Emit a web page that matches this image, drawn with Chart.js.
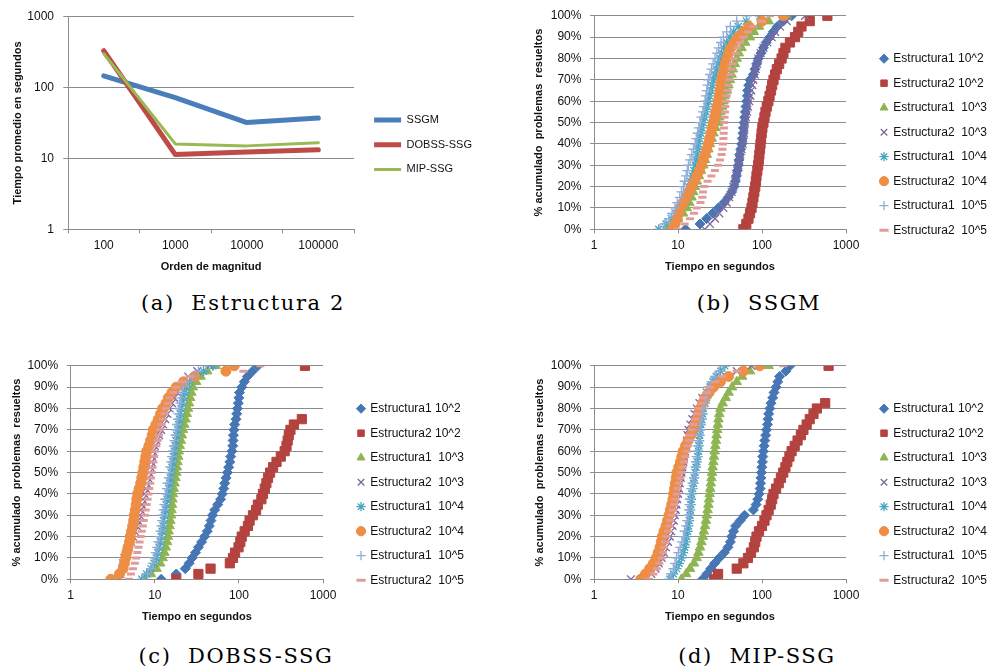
<!DOCTYPE html>
<html>
<head>
<meta charset="utf-8">
<script src="https://cdn.jsdelivr.net/npm/chart.js@4.4.0/dist/chart.umd.min.js"></script>
<style>
html, body { margin: 0; padding: 0; background: #fff; width: 992px; height: 670px; overflow: hidden; }
.box { position: absolute; height: 290px; }
.cap { position: absolute; font-family: "DejaVu Serif", serif; font-size: 21px; line-height: 21px; letter-spacing: 1.6px; color: #000; white-space: pre; transform: translateX(-50%); }
</style>
</head>
<body>
<div class="box" style="left:0;top:0;width:482px"><canvas id="chartA"></canvas></div>
<div class="box" style="left:520px;top:0;width:477px"><canvas id="chartB"></canvas></div>
<div class="box" style="left:0;top:350px;width:474px"><canvas id="chartC"></canvas></div>
<div class="box" style="left:520px;top:350px;width:477px"><canvas id="chartD"></canvas></div>
<div class="cap" style="left:243px;top:293px">(a)  Estructura 2</div>
<div class="cap" style="left:759px;top:293px">(b)  SSGM</div>
<div class="cap" style="left:236px;top:646px">(c)  DOBSS-SSG</div>
<div class="cap" style="left:757px;top:646px">(d)  MIP-SSG</div>
<script>
// (a) average time per order of magnitude
const magnitudes = ['100', '1000', '10000', '100000'];
const ssgmAvg = [146, 72, 32, 37];
const dobssAvg = [329, 11.3, 12.3, 13.2];
const mipAvg = [298, 16, 15, 16.6];
const logTicks = [1, 10, 100, 1000];

// (b)-(d) cumulative % of solved problems vs time (s)
const pctLevels = [0,2.5,5,7.5,10,12.5,15,17.5,20,22.5,25,27.5,30,32.5,35,37.5,40,42.5,45,47.5,50,52.5,55,57.5,60,62.5,65,67.5,70,72.5,75,77.5,80,82.5,85,87.5,90,92.5,95,97.5,100];
const timeTicks = [1, 10, 100, 1000];
const seriesNames = ['Estructura1 10^2', 'Estructura2 10^2', 'Estructura1  10^3', 'Estructura2  10^3', 'Estructura1  10^4', 'Estructura2  10^4', 'Estructura1  10^5', 'Estructura2  10^5'];

// SSGM
const ssgmE1_2 = [12.3,18.3,21.9,25.9,30.2,35.3,39.7,43.5,46.4,48.2,49.5,50.8,52.3,53.2,54.2,55.7,57.3,58.3,59.4,60,61.1,62.2,63.4,64.5,65.7,66.9,67.5,69.4,71.9,78.8,82.5,86.4,90.4,97.3,104,112,124,136,152,179,225];
const ssgmE2_2 = [60,65,69,72,75,77,79,81,83,84.5,86,88,90,91.5,93,94.5,96,97.5,99,101,104,107,110,114,119,123,128,132,137,143,150,160,171,180,190,215,247,270,295,370,600];
const ssgmE1_3 = [7.2,8.5,10,11.5,12.7,13.6,14.5,15.2,15.9,16.8,17.8,18.8,20,21,22,23,24,25.2,26.5,28,30,31,32,33.4,34.7,36,38,39.8,41.6,43.5,45,47.5,50,53,57,63,72,80,92,120,198];
const ssgmE2_3 = [20.8,24,27.6,31,34.7,38,40.8,43.5,45.6,47.7,49.5,50.8,52.3,53.7,55.2,57.3,58.9,60,61.1,61.7,62.8,64.5,66.3,68.1,70.6,72.6,74.7,76.7,78.8,81.8,84.1,87.2,90.4,96.4,104,116,130,143,164,197,325];
const ssgmE1_4 = [5.9,7.2,8.3,9.5,10.6,11.5,12.3,12.8,13.3,14,14.7,15.4,16,16.4,16.8,17.2,17.5,18,18.7,19.3,20,20.8,21.6,22.3,23,23.8,24.7,25.5,26.4,27.5,28.7,30,31.6,33,35,38,41.6,46,52,65,94];
const ssgmE2_4 = [8.6,9.2,9.8,10.2,10.6,11.5,12.5,13.5,14.5,15.6,16.8,18,19,20,21,22,23,23.8,24.6,25.5,26.4,27.3,28.2,29,30,30.8,31.6,32.3,33,34,35.2,36.5,38,40,42.5,46.5,52,60,70,100,179];
const ssgmE1_5 = [6.1,7,7.8,8.5,9.2,9.8,10.5,11,11.6,12,12.5,12.9,13.3,13.9,14.6,15.3,16,16.5,17.1,17.7,18.3,19,19.8,20.4,21,21.5,22,22.5,23,24,25,26.2,27.5,29,30.5,32.5,34.7,38,42,50,66];
const ssgmE2_5 = [9.9,12,13.9,15.5,16.7,18.5,19.5,19.8,20.5,22.5,25,27.5,30,31.6,33,33.8,34.3,34.7,35,35.2,35.5,35.8,36.2,36.5,37,38,39,40,41,42,43,44.5,46,48.5,51,55,60,68,78,100,124];

// DOBSS-SSG
const dobssE1_2 = [11.9,18,23,25.6,27.8,30.5,33,36,39,42,44.5,46.5,48.5,51.5,56,60.5,63.5,66,67.8,70.3,73,75.5,78,80,82.6,84.5,85.3,86,87.3,89,92.3,94.2,96,98.3,100,101.5,108,116,126,145,168];
const dobssE2_2 = [18,33,46,78,85,90,99,104,108,117,128,134,147,160,168,185,193,203,212,222,235,255,280,315,350,368,380,392,410,450,560,null,null,null,null,null,null,null,null,null,610];
const dobssE1_3 = [7.5,9,10.5,11.6,12.4,13,13.5,14,14.3,14.6,15,15.3,15.6,15.8,16,16.2,16.4,16.8,17.2,17.6,18,18.3,18.6,19,19.3,19.8,20.4,21,21.6,22.4,23.2,24,24.8,25.5,26.3,27.2,28.3,31,35,42,53];
const dobssE2_3 = [3.7,3.9,4.1,4.2,4.35,4.6,4.9,5.2,5.5,5.8,6.1,6.3,6.6,6.8,7,7.2,7.5,7.8,8,8.3,8.6,8.9,9.1,9.3,9.5,10,10.5,11.2,11.9,12.6,13.3,14.1,15,16,17,18.3,19.7,22,25,32,45];
const dobssE1_4 = [7,8,9,9.8,10.4,10.8,11.2,11.6,11.9,12.2,12.5,12.7,13,13.3,13.6,14,14.3,14.6,15,15.3,15.6,16,16.3,16.7,17,17.4,17.8,18.2,18.7,19.2,19.6,20,20.5,21.2,22,22.8,23.6,26,30,38,49];
const dobssE2_4 = [3,3.8,4.2,4.35,4.5,4.65,4.8,5,5.1,5.3,5.45,5.6,5.7,5.85,6,6.1,6.25,6.5,6.8,7,7.2,7.4,7.6,7.8,8,8.5,8.9,9.3,9.6,10.3,11,11.7,12.4,13.6,14.5,16,18,22,30,70,88];
const dobssE1_5 = [7.2,8.2,9,9.5,9.9,10.3,10.7,11,11.4,11.7,12,12.2,12.4,12.7,13,13.3,13.6,13.9,14.2,14.6,14.9,15.3,15.7,16,16.4,16.8,17.2,17.6,18,18.4,18.8,19.2,19.7,20.1,20.6,21.1,21.6,24,28,33,41];
const dobssE2_5 = [4.9,5.2,5.5,5.8,6,6.2,6.4,6.6,6.8,7,7.2,7.4,7.6,7.8,8,8.2,8.4,8.6,8.8,9,9.2,9.4,9.6,9.8,10,10.4,10.8,11.2,11.5,12,12.5,13,13.6,14.3,15,16.5,18,21,26,113,180];

// MIP-SSG
const mipE1_2 = [19.5,22,24.5,27.3,31,35.5,39.3,42,43.6,45.8,48.5,55,62,79,85,89,92.5,95,96,97,98.3,99.5,101,102,104,106,108,110.5,113,116,118,120,124,128,134,139,147,154,162,192,215];
const mipE2_2 = [27,30,50,60,68,74,80,83,86,92,100,107,113,120,127,132,137,147,158,168,179,190,200,212,225,245,265,290,311,340,370,410,450,565,null,null,null,null,null,null,620];
const mipE1_3 = [11,12.5,13.9,15.5,16.7,17.5,18.3,19,19.7,20.3,21,21.5,22,22.5,23,23.4,23.8,24.2,24.6,25,25.4,25.8,26.3,26.8,27.3,27.8,28.3,28.8,29.3,29.8,30.3,31,32,34,37,40,44,50,58,72,120];
const mipE2_3 = [2.75,4.8,5.4,5.9,6.4,6.8,7.2,7.6,8,8.3,8.6,8.9,9.2,9.4,9.6,9.8,10,10.3,10.5,10.8,11,11.3,11.6,11.8,12.1,12.4,12.7,13,13.3,14,14.8,15.7,16.7,18,19.5,22,25,30,37,50,75];
const mipE1_4 = [8,8.8,9.6,10.3,11,11.5,12,12.4,12.7,13,13.3,13.6,13.9,14,14.2,14.3,14.5,14.9,15.3,15.6,16,16.4,16.8,17.2,17.5,17.7,17.9,18.1,18.3,18.7,19.2,19.6,20,21,22,23,24,26,28.5,32,36];
const mipE2_4 = [3.6,4.1,4.6,5.1,5.5,5.8,6.1,6.3,6.5,6.8,7.2,7.5,7.8,8.1,8.4,8.7,8.9,9.1,9.3,9.5,9.7,10.2,10.7,11.1,11.5,12.3,13.2,14.2,15.2,16,16.8,17.5,18.3,19.5,21,23.5,26.4,32,40,60,94];
const mipE1_5 = [7.7,8.2,8.8,9.2,9.6,10.1,10.6,11.1,11.6,12,12.5,12.9,13.3,13.5,13.7,13.8,13.9,14.4,14.9,15.5,16,16.2,16.4,16.6,16.7,17.1,17.5,17.9,18.3,18.7,19.1,19.5,20,20.7,21.4,22.2,23,25,27.5,31,35];
const mipE2_5 = [4.5,5.1,5.6,6,6.4,6.6,6.8,7,7.3,7.6,7.9,8.1,8.4,8.7,9,9.3,9.6,9.9,10.3,10.7,11,11.4,11.8,12.2,12.7,13.1,13.6,14,14.5,15.2,16,16.8,17.5,18.8,20,22,24,28,34,50,179];

// styles
const seriesColors = ['#4676B4', '#B4423F', '#8FB553', '#8066A0', '#47A5C0', '#EE8D44', '#8FACD8', '#DF9C9A'];
const markerStyles = ['rectRot', 'rect', 'triangle', 'crossRot', 'star', 'circle', 'cross', 'line'];
const markerSizes = [5, 6.5, 5.5, 5.5, 5, 5, 5, 4];
const markerBorders = [1, 1, 1, 1.3, 1.3, 1, 1.3, 3];

const FONT = 'Liberation Sans';
const gridColor = '#8c8c8c';
const textColor = '#111';
Chart.defaults.font.family = FONT;

function spacer(w) {
	return { type: 'linear', position: 'right', display: true, grid: { display: false }, border: { display: false }, ticks: { display: false }, afterFit: s => { s.width = w; } };
}

// (a)
new Chart(document.getElementById('chartA'), {
	type: 'line',
	data: {
		labels: magnitudes,
		datasets: [
			{ label: 'SSGM', data: ssgmAvg, borderColor: '#4A7EBB', backgroundColor: '#4A7EBB', borderWidth: 5, pointBorderWidth: 5, order: 3 },
			{ label: 'DOBSS-SSG', data: dobssAvg, borderColor: '#BE4B48', backgroundColor: '#BE4B48', borderWidth: 5, pointBorderWidth: 5, order: 2 },
			{ label: 'MIP-SSG', data: mipAvg, borderColor: '#98B954', backgroundColor: '#98B954', borderWidth: 3, pointBorderWidth: 3, order: 1 }
		]
	},
	options: {
		responsive: true,
		maintainAspectRatio: false,
		animation: false,
		layout: { padding: { top: 12.7, bottom: 13.3, left: 0, right: 0 } },
		elements: {
			point: { radius: 0, hoverRadius: 0, pointStyle: 'line' },
			line: { tension: 0, borderCapStyle: 'round', borderJoinStyle: 'round' }
		},
		plugins: {
			tooltip: { enabled: false },
			legend: {
				position: 'right', align: 'center', maxWidth: 300,
				labels: { usePointStyle: true, pointStyleWidth: 27, padding: 13.7, color: textColor, font: { family: FONT, size: 11 },
					sort: (a, b) => a.datasetIndex - b.datasetIndex }
			}
		},
		scales: {
			x: {
				type: 'category', offset: true,
				grid: { offset: true, drawOnChartArea: false, tickLength: 4, color: gridColor },
				border: { color: gridColor },
				ticks: { color: textColor, font: { family: FONT, size: 12 }, padding: 5.2, maxRotation: 0 },
				title: { display: true, text: 'Orden de magnitud', color: textColor, font: { family: FONT, size: 11, weight: 'bold' }, padding: { top: 0, bottom: 3.4 } },
				afterFit: s => { s.height = 47.4; }
			},
			y: {
				type: 'logarithmic', min: 1, max: 1000,
				afterBuildTicks: s => { s.ticks = logTicks.map(v => ({ value: v })); },
				grid: { color: gridColor, tickLength: 4.7 },
				border: { color: gridColor },
				ticks: { color: textColor, font: { family: FONT, size: 12 }, padding: 9.3, callback: v => String(v) },
				title: { display: true, text: 'Tiempo promedio en segundos', color: textColor, font: { family: FONT, size: 11, weight: 'bold' }, padding: { top: 10.9, bottom: 0 } },
				afterFit: s => { s.width = 68; }
			},
			sp: spacer(6.3)
		}
	}
});

// (b)-(d)
function cdfChart(canvasId, series, yWidth, yTitlePad) {
	const datasets = series.map((times, i) => ({
		label: seriesNames[i],
		data: times.map((t, k) => ({ x: t, y: pctLevels[k] })).filter(p => p.x !== null),
		pointStyle: markerStyles[i],
		pointRadius: markerSizes[i],
		pointHoverRadius: markerSizes[i],
		pointBorderWidth: markerBorders[i],
		borderWidth: markerBorders[i],
		backgroundColor: seriesColors[i],
		borderColor: seriesColors[i],
		order: series.length - i
	}));
	return new Chart(document.getElementById(canvasId), {
		type: 'scatter',
		data: { datasets },
		options: {
			responsive: true,
			maintainAspectRatio: false,
			animation: false,
			layout: { padding: { top: 13.3, bottom: 14.4, left: 0, right: 0 } },
			plugins: {
				tooltip: { enabled: false },
				legend: {
					position: 'right', align: 'center', maxWidth: 300,
					labels: { usePointStyle: true, boxWidth: 6.6, boxHeight: 6.5, padding: 12.5, color: textColor, font: { family: FONT, size: 12 },
						sort: (a, b) => a.datasetIndex - b.datasetIndex }
				}
			},
			scales: {
				x: {
					type: 'logarithmic', min: 1, max: 1000,
					afterBuildTicks: s => { s.ticks = timeTicks.map(v => ({ value: v })); },
					grid: { drawOnChartArea: false, tickLength: 4, color: gridColor },
					border: { color: gridColor },
					ticks: { color: textColor, font: { family: FONT, size: 12 }, padding: 5.2, maxRotation: 0, callback: v => String(v) },
					title: { display: true, text: 'Tiempo en segundos', color: textColor, font: { family: FONT, size: 11, weight: 'bold' }, padding: { top: 0, bottom: 1.7 } },
					afterFit: s => { s.height = 46.3; }
				},
				y: {
					min: 0, max: 100,
					grid: { color: gridColor, tickLength: 4 },
					border: { color: gridColor },
					ticks: { stepSize: 10, color: textColor, font: { family: FONT, size: 12 }, padding: 8.6, callback: v => v + '%' },
					title: { display: true, text: '% acumulado  problemas  resueltos', color: textColor, font: { family: FONT, size: 11, weight: 'bold' }, padding: { top: yTitlePad, bottom: 0 } },
					afterFit: s => { s.width = yWidth; }
				},
				sp: spacer(22.2)
			}
		}
	});
}

cdfChart('chartB', [ssgmE1_2, ssgmE2_2, ssgmE1_3, ssgmE2_3, ssgmE1_4, ssgmE2_4, ssgmE1_5, ssgmE2_5], 74, 12.4);
cdfChart('chartC', [dobssE1_2, dobssE2_2, dobssE1_3, dobssE2_3, dobssE1_4, dobssE2_4, dobssE1_5, dobssE2_5], 70.7, 10.7);
cdfChart('chartD', [mipE1_2, mipE2_2, mipE1_3, mipE2_3, mipE1_4, mipE2_4, mipE1_5, mipE2_5], 74, 13.4);
</script>
</body>
</html>
